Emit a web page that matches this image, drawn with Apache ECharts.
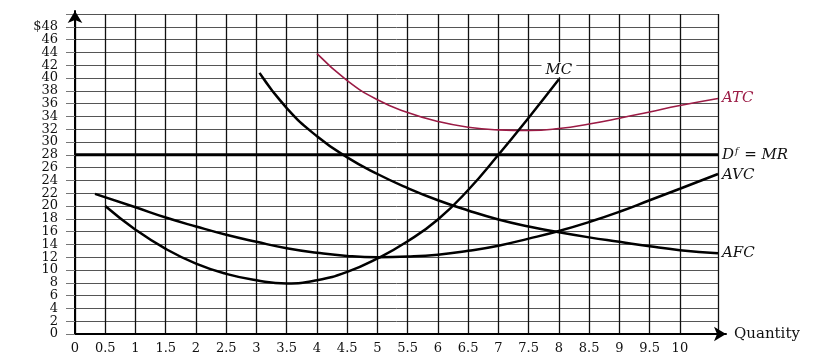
<!DOCTYPE html>
<html><head><meta charset="utf-8">
<script src="https://cdn.jsdelivr.net/npm/echarts@6/dist/echarts.min.js"></script>
<style>html,body{margin:0;padding:0;background:#fff}#c{width:820px;height:356px}</style>
</head><body><div id="c"></div>
<script>
// ---- data ----
const mcQ  = [0.5, 1, 1.5, 2, 2.5, 3, 3.5, 4, 4.5, 5, 5.5, 6, 6.5, 7, 7.5, 8];
const mcV  = [20, 16.3, 13.3, 11.0, 9.4, 8.4, 7.9, 8.4, 9.7, 11.8, 14.5, 17.9, 22.5, 28, 33.8, 39.8];
const atcQ = [4, 4.5, 5, 5.5, 6, 6.5, 7, 7.5, 8, 8.5, 9, 9.5, 10, 10.63];
const atcV = [43.8, 39.6, 36.6, 34.6, 33.2, 32.3, 31.9, 31.8, 32.1, 32.8, 33.7, 34.7, 35.7, 36.8];
const avcQ = [0.33, 1, 1.5, 2, 2.5, 3, 3.5, 4, 4.5, 5, 5.5, 6, 6.5, 7, 7.5, 8, 8.5, 9, 9.5, 10, 10.63];
const avcV = [21.9, 19.8, 18.2, 16.8, 15.5, 14.4, 13.4, 12.7, 12.2, 12.0, 12.1, 12.4, 13.0, 13.8, 14.9, 16.1, 17.5, 19.1, 20.9, 22.7, 25.0];
const afcQ = [3.05, 3.5, 4, 4.5, 5, 5.5, 6, 6.5, 7, 7.5, 8, 8.5, 9, 9.5, 10, 10.63];
const afcV = [40.8, 35.3, 30.9, 27.6, 25.0, 22.8, 20.9, 19.3, 17.9, 16.8, 15.9, 15.1, 14.4, 13.7, 13.1, 12.6];
const mrQ  = [0, 10.63];
const mrV  = [28, 28];
const xLabelMax = 10;     // last labelled quantity
const yLabelMax = 48;     // last labelled price
const xEnd = 10.63, yEnd = 50;

const pairs = (q, v) => q.map((x, i) => [x, v[i]]);
const FONT = 'DejaVu Serif';
const nXLines = Math.round(xEnd / 0.5 - 0.5) + 2; // ticks 0..10.5 + end
const xLineColors = Array.from({length: nXLines}, (_, i) => (i === nXLines - 2 ? 'rgba(0,0,0,0)' : '#111'));

const lab = (txt, color, extra) => Object.assign({
  show: true, formatter: txt, color: color, fontFamily: FONT, fontStyle: 'italic', fontSize: 15, distance: 4
}, extra || {});

const chart = echarts.init(document.getElementById('c'), null, {renderer: 'canvas'});
chart.setOption({
  animation: false,
  backgroundColor: '#fff',
  grid: [
    {left: 75, right: 102, top: 14, bottom: 22, containLabel: false},
    {left: 75, right: 94, top: 11, bottom: 22, containLabel: false}
  ],
  xAxis: [
    {gridIndex: 0, type: 'value', min: 0, max: xEnd, interval: 0.5,
     axisLine: {show: false}, axisTick: {show: false},
     axisLabel: {margin: 8, fontFamily: FONT, fontSize: 13, color: '#111',
       showMinLabel: true, showMaxLabel: true,
       formatter: v => (v > xLabelMax + 0.001 ? '' : String(v))},
     splitLine: {show: true, lineStyle: {color: xLineColors, width: 1.3}}},
    {gridIndex: 1, type: 'value', min: 0, max: 1,
     axisLine: {show: true, symbol: ['none', 'arrow'], symbolSize: [11, 12], lineStyle: {color: '#000', width: 2}},
     axisTick: {show: false}, axisLabel: {show: false}, splitLine: {show: false},
     name: 'Quantity', nameLocation: 'end', nameGap: 8,
     nameTextStyle: {fontFamily: FONT, fontSize: 15, color: '#111', verticalAlign: 'middle'}}
  ],
  yAxis: [
    {gridIndex: 0, type: 'value', min: 0, max: yEnd, interval: 2,
     axisLine: {show: false},
     axisTick: {show: true, length: 9, lineStyle: {color: '#777'}},
     axisLabel: {margin: 17, fontFamily: FONT, fontSize: 13, color: '#111',
       formatter: v => (v > yLabelMax ? '' : (v === yLabelMax ? '$' + v : String(v)))},
     splitLine: {show: true, lineStyle: {color: '#555', width: 1}}},
    {gridIndex: 1, type: 'value', min: 0, max: 1,
     axisLine: {show: true, symbol: ['none', 'arrow'], symbolSize: [11, 12], lineStyle: {color: '#000', width: 2}},
     axisTick: {show: false}, axisLabel: {show: false}, splitLine: {show: false}}
  ],
  series: [
    {type: 'line', name: 'ATC', data: pairs(atcQ, atcV), smooth: 0.5, showSymbol: false,
     lineStyle: {color: '#9b1b45', width: 1.6}, itemStyle: {color: '#9b1b45'},
     endLabel: lab('ATC', '#9b1b45')},
    {type: 'line', name: 'MR', data: pairs(mrQ, mrV), showSymbol: false,
     lineStyle: {color: '#000', width: 3}, itemStyle: {color: '#000'},
     endLabel: {show: true, distance: 4, formatter: '{a|D}{s|f}{b| = }{a|MR}',
       rich: {
         a: {fontFamily: FONT, fontStyle: 'italic', fontSize: 15, color: '#111'},
         b: {fontFamily: FONT, fontSize: 15, color: '#111'},
         s: {fontFamily: FONT, fontStyle: 'italic', fontSize: 9, color: '#111', verticalAlign: 'top', padding: [0, 1, 0, 1]}
       }}},
    {type: 'line', name: 'AVC', data: pairs(avcQ, avcV), smooth: 0.5, showSymbol: false,
     lineStyle: {color: '#000', width: 2.5}, itemStyle: {color: '#000'},
     endLabel: lab('AVC', '#111', {offset: [0, 1]})},
    {type: 'line', name: 'AFC', data: pairs(afcQ, afcV), smooth: 0.5, showSymbol: false,
     lineStyle: {color: '#000', width: 2.5}, itemStyle: {color: '#000'},
     endLabel: lab('AFC', '#111')},
    {type: 'line', name: 'MC', data: pairs(mcQ, mcV), smooth: 0.5, showSymbol: false,
     lineStyle: {color: '#000', width: 2.5}, itemStyle: {color: '#000'},
     endLabel: lab('MC', '#111', {align: 'center', verticalAlign: 'bottom', distance: 0, offset: [0, -2],
       backgroundColor: '#fff', padding: [0, 4]})}
  ]
});
</script></body></html>
